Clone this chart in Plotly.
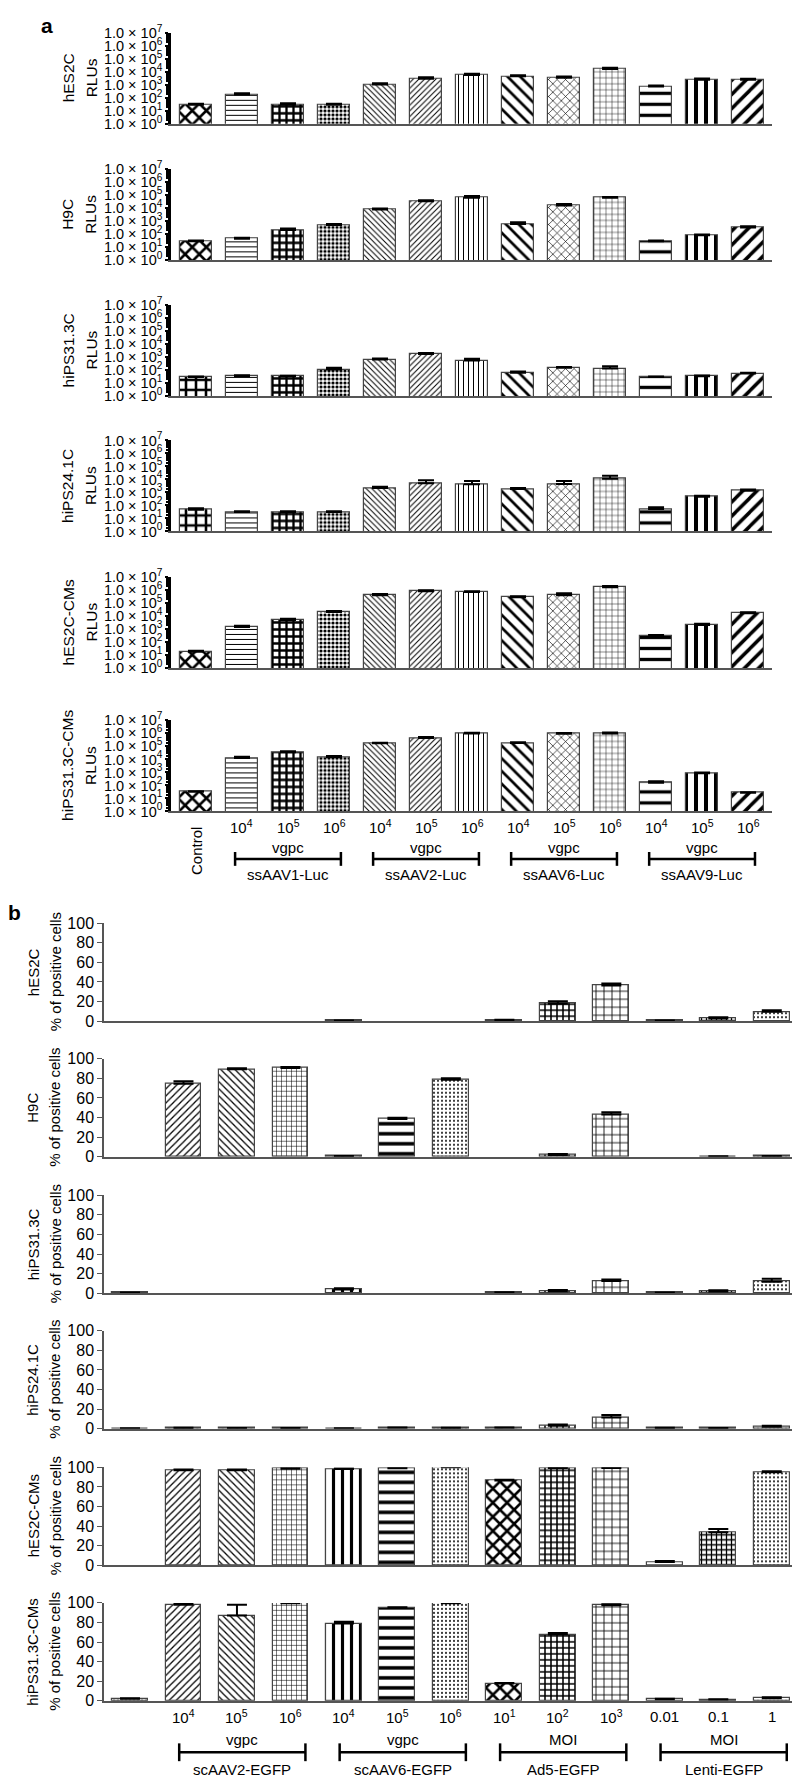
import plotly.graph_objects as go

# ---------------- DATA ----------------
cells_a = ["hES2C", "H9C", "hiPS31.3C", "hiPS24.1C", "hES2C-CMs", "hiPS31.3C-CMs"]
cells_b = ["hES2C", "H9C", "hiPS31.3C", "hiPS24.1C", "hES2C-CMs", "hiPS31.3C-CMs"]

# Panel a: RLUs (log scale), 13 bars: Control, AAV1 x3, AAV2 x3, AAV6 x3, AAV9 x3
rlu_hES2C = [30, 180, 30, 30, 1050, 3000, 5600, 4500, 3500, 16500, 740, 2500, 2500]
rlu_hES2C_err = [5, 50, 8, 5, 250, 800, 1500, 1000, 800, 4000, 150, 600, 500]
rlu_H9C = [30, 47, 215, 520, 8100, 35000, 66000, 620, 17000, 66000, 30, 85, 345]
rlu_H9C_err = [4, 8, 70, 120, 1500, 8000, 25000, 250, 5000, 10000, 4, 15, 80]
rlu_hiPS31 = [28, 33, 32, 107, 620, 1670, 520, 60, 145, 128, 28, 33, 53]
rlu_hiPS31_err = [3, 6, 4, 40, 150, 300, 200, 15, 20, 60, 3, 5, 8]
rlu_hiPS24 = [47, 31, 31, 31, 2200, 5000, 4200, 1830, 4500, 11500, 53, 470, 1370]
rlu_hiPS24_err = [15, 5, 5, 5, 500, 3500, 3500, 400, 3000, 8000, 20, 80, 300]
rlu_hES2C_CM = [18, 1400, 5000, 20000, 400000, 800000, 700000, 280000, 400000, 1600000, 280, 2000, 16000]
rlu_hES2C_CM_err = [3, 400, 1000, 4000, 80000, 150000, 100000, 50000, 150000, 400000, 60, 500, 3000]
rlu_hiPS31_CM = [32, 13000, 36000, 15000, 175000, 450000, 1000000, 185000, 960000, 1000000, 163, 850, 27]
rlu_hiPS31_CM_err = [3, 3000, 6000, 3000, 20000, 80000, 100000, 20000, 100000, 150000, 50, 150, 3]

vals_a = [rlu_hES2C, rlu_H9C, rlu_hiPS31, rlu_hiPS24, rlu_hES2C_CM, rlu_hiPS31_CM]
errs_a = [rlu_hES2C_err, rlu_H9C_err, rlu_hiPS31_err, rlu_hiPS24_err, rlu_hES2C_CM_err, rlu_hiPS31_CM_err]

# Panel b: % of positive cells
pct_hES2C = [None, None, None, None, 0.5, None, None, 1.0, 17.9, 36.5, 0.5, 2.7, 9.5]
pct_hES2C_err = [0, 0, 0, 0, 0.3, 0, 0, 0.5, 2.4, 2.0, 0.3, 1.3, 1.7]
pct_H9C = [None, 74.4, 89.2, 90.6, 0.5, 38.4, 78.5, None, 1.7, 43.1, None, 0.3, 0.5]
pct_H9C_err = [0, 2.7, 1.0, 1.0, 0.3, 1.3, 1.7, 0, 1.0, 2.3, 0, 0.2, 0.3]
pct_hiPS31 = [0.5, None, None, None, 3.7, None, None, 0.7, 2.0, 12.4, 0.5, 1.7, 11.7]
pct_hiPS31_err = [0.2, 0, 0, 0, 1.3, 0, 0, 0.3, 1.3, 1.7, 0.2, 1.3, 3.0]
pct_hiPS24 = [0.3, 0.8, 0.5, 0.5, 0.3, 1.0, 0.8, 1.0, 3.0, 11.4, 0.8, 0.5, 2.0]
pct_hiPS24_err = [0.2, 0.3, 0.3, 0.3, 0.2, 0.4, 0.3, 0.4, 1.3, 2.7, 0.3, 0.3, 1.0]
pct_hES2C_CM = [None, 97, 97, 98.6, 98.3, 99, 100, 86.6, 99.3, 99.3, 3.4, 33.6, 95]
pct_hES2C_CM_err = [0, 0.7, 0.7, 0.5, 0.5, 0.7, 0.3, 0.7, 0.5, 0.5, 1.0, 3.4, 1.0]
pct_hiPS31_CM = [2.0, 98, 87.2, 99.7, 79, 95, 99.7, 17.6, 67.6, 97.6, 1.7, 1.4, 2.7]
pct_hiPS31_CM_err = [0.7, 1.0, 10.8, 0.5, 1.7, 0.5, 0.3, 0.5, 1.7, 1.0, 0.3, 0.3, 1.0]

vals_b = [pct_hES2C, pct_H9C, pct_hiPS31, pct_hiPS24, pct_hES2C_CM, pct_hiPS31_CM]
errs_b = [pct_hES2C_err, pct_H9C_err, pct_hiPS31_err, pct_hiPS24_err, pct_hES2C_CM_err, pct_hiPS31_CM_err]

doses_a = ["Control", "10<sup>4</sup>", "10<sup>5</sup>", "10<sup>6</sup>",
           "10<sup>4</sup>", "10<sup>5</sup>", "10<sup>6</sup>",
           "10<sup>4</sup>", "10<sup>5</sup>", "10<sup>6</sup>",
           "10<sup>4</sup>", "10<sup>5</sup>", "10<sup>6</sup>"]
groups_a = ["ssAAV1-Luc", "ssAAV2-Luc", "ssAAV6-Luc", "ssAAV9-Luc"]
units_a = ["vgpc", "vgpc", "vgpc", "vgpc"]

doses_b = ["", "10<sup>4</sup>", "10<sup>5</sup>", "10<sup>6</sup>",
           "10<sup>4</sup>", "10<sup>5</sup>", "10<sup>6</sup>",
           "10<sup>1</sup>", "10<sup>2</sup>", "10<sup>3</sup>",
           "0.01", "0.1", "1"]
groups_b = ["scAAV2-EGFP", "scAAV6-EGFP", "Ad5-EGFP", "Lenti-EGFP"]
units_b = ["vgpc", "vgpc", "MOI", "MOI"]

ytick_vals_a = [1, 10, 100, 1e3, 1e4, 1e5, 1e6, 1e7]
ytick_text_a = ["1.0 × 10<sup>%d</sup>" % k for k in range(8)]
ytick_vals_b = [0, 20, 40, 60, 80, 100]

# ---------------- STYLE ----------------
W, H = 800, 1778
FONT = "Liberation Sans, Arial, sans-serif"
N = 13

pat_shape_a = ["x", "-", "+", ".", "\\", "/", "|", "\\", "x", "+", "-", "|", "/"]
pat_size_a = [10, 5, 7, 4, 4, 4, 5, 9, 6, 6, 11, 10, 10]
pat_sol_a = [0.45, 0.2, 0.55, 0.5, 0.25, 0.25, 0.2, 0.3, 0.2, 0.15, 0.3, 0.4, 0.35]
ctrl_shape_a = ["x", "x", "+", "+", "x", "x"]

pat_shape_b = [".", "/", "\\", "+", "|", "-", ".", "x", "+", "+", "-", "+", "."]
pat_size_b = [4, 5, 5, 5, 9, 10, 4, 10, 6, 8, 8, 5, 4]
pat_sol_b = [0.3, 0.25, 0.25, 0.2, 0.35, 0.35, 0.2, 0.45, 0.45, 0.2, 0.2, 0.45, 0.2]

a_top = [15, 153, 290, 427, 565, 710]
a_h = 92
b_top = [915, 1052, 1190, 1327, 1465, 1602]
b_h = 99


def py(p):
    return 1 - p / H


fig = go.Figure()
layout = dict(width=W, height=H, margin=dict(l=0, r=0, t=0, b=0),
              plot_bgcolor="white", paper_bgcolor="white",
              font=dict(family=FONT, color="black", size=15), showlegend=False,
              bargap=0)
annotations = []
shapes = []

xs = list(range(N))

for i in range(6):
    k = i + 1
    sh = list(pat_shape_a)
    sh[0] = ctrl_shape_a[i]
    fig.add_trace(go.Bar(
        x=xs, y=vals_a[i], xaxis="x%d" % k, yaxis="y%d" % k, width=0.7,
        marker=dict(color="white", line=dict(color="#444", width=1.2),
                    pattern=dict(shape=sh, size=pat_size_a, solidity=pat_sol_a,
                                 fgcolor="black", bgcolor="white", fgopacity=1,
                                 fillmode="overlay")),
        error_y=dict(type="data", array=errs_a[i], arrayminus=[0] * N, symmetric=False,
                     color="black", thickness=2, width=8),
        hoverinfo="skip"))
    layout["xaxis%d" % k] = dict(domain=[163 / W, 764 / W], range=[-0.543, 12.52],
                                 anchor="y%d" % k, showticklabels=False, ticks="",
                                 showline=True, linecolor="#555", linewidth=1.5,
                                 showgrid=False, zeroline=False)
    layout["yaxis%d" % k] = dict(domain=[py(a_top[i] + a_h), py(a_top[i])], type="log",
                                 range=[0, 7], anchor="x%d" % k,
                                 tickvals=ytick_vals_a, ticktext=ytick_text_a,
                                 tickfont=dict(size=14.5, family=FONT),
                                 ticks="outside", ticklen=3, tickwidth=1.5, tickcolor="black",
                                 minor=dict(ticks="outside", ticklen=2, dtick="D1", tickcolor="black"),
                                 showline=True, linecolor="black", linewidth=2.5,
                                 showgrid=False, zeroline=False)
    yc = py(a_top[i] + a_h / 2)
    annotations.append(dict(text=cells_a[i], x=60 / W, y=yc, xref="paper", yref="paper",
                            textangle=-90, showarrow=False, font=dict(size=15.5),
                            xanchor="center", yanchor="middle"))
    annotations.append(dict(text="RLUs", x=83 / W, y=yc, xref="paper", yref="paper",
                            textangle=-90, showarrow=False, font=dict(size=15.5),
                            xanchor="center", yanchor="middle"))

for i in range(6):
    k = i + 7
    fig.add_trace(go.Bar(
        x=xs, y=vals_b[i], xaxis="x%d" % k, yaxis="y%d" % k, width=0.67,
        marker=dict(color="white", line=dict(color="#444", width=1.2),
                    pattern=dict(shape=pat_shape_b, size=pat_size_b, solidity=pat_sol_b,
                                 fgcolor="black", bgcolor="white", fgopacity=1,
                                 fillmode="overlay")),
        error_y=dict(type="data", array=errs_b[i], arrayminus=[0] * N, symmetric=False,
                     color="black", thickness=2, width=10),
        hoverinfo="skip"))
    layout["xaxis%d" % k] = dict(domain=[96 / W, 790 / W], range=[-0.486, 12.49],
                                 anchor="y%d" % k, showticklabels=False, ticks="",
                                 showline=True, linecolor="#555", linewidth=1.5,
                                 showgrid=False, zeroline=False)
    layout["yaxis%d" % k] = dict(domain=[py(b_top[i] + b_h), py(b_top[i])],
                                 range=[0, 100], anchor="x%d" % k,
                                 tickvals=ytick_vals_b,
                                 tickfont=dict(size=16, family=FONT),
                                 ticks="outside", ticklen=5, tickwidth=1.2, tickcolor="#555",
                                 showline=True, linecolor="#555", linewidth=1.5,
                                 showgrid=False, zeroline=False)
    yc = py(b_top[i] + b_h / 2)
    annotations.append(dict(text=cells_b[i], x=25 / W, y=yc, xref="paper", yref="paper",
                            textangle=-90, showarrow=False, font=dict(size=15),
                            xanchor="center", yanchor="middle"))
    annotations.append(dict(text="% of positive cells", x=47 / W, y=yc, xref="paper", yref="paper",
                            textangle=-90, showarrow=False, font=dict(size=15),
                            xanchor="center", yanchor="middle"))

# ---- x labels panel a ----
xa = "x6"
for j in range(N):
    if j == 0:
        annotations.append(dict(text=doses_a[0], x=0, y=py(842), xref=xa, yref="paper",
                                textangle=-90, showarrow=False, font=dict(size=15),
                                xanchor="center", yanchor="middle"))
    else:
        annotations.append(dict(text=doses_a[j], x=j, y=py(817), xref=xa, yref="paper",
                                showarrow=False, font=dict(size=15),
                                xanchor="center", yanchor="middle"))
for g in range(4):
    c = 2 + 3 * g
    annotations.append(dict(text=units_a[g], x=c, y=py(838), xref=xa, yref="paper",
                            showarrow=False, font=dict(size=15), xanchor="center", yanchor="middle"))
    annotations.append(dict(text=groups_a[g], x=c, y=py(866), xref=xa, yref="paper",
                            showarrow=False, font=dict(size=15), xanchor="center", yanchor="middle"))
    x0, x1 = c - 1.15, c + 1.15
    shapes.append(dict(type="line", xref=xa, yref="paper", x0=x0, x1=x1, y0=py(850), y1=py(850),
                       line=dict(color="black", width=2.5)))
    for xx in (x0, x1):
        shapes.append(dict(type="line", xref=xa, yref="paper", x0=xx, x1=xx, y0=py(843), y1=py(857),
                           line=dict(color="black", width=2.5)))

# ---- x labels panel b ----
xb = "x12"
for j in range(1, N):
    annotations.append(dict(text=doses_b[j], x=j, y=py(1717), xref=xb, yref="paper",
                            showarrow=False, font=dict(size=15), xanchor="center", yanchor="middle"))
for g in range(4):
    c = 2 + 3 * g + 0.1
    annotations.append(dict(text=units_b[g], x=c, y=py(1740), xref=xb, yref="paper",
                            showarrow=False, font=dict(size=15), xanchor="center", yanchor="middle"))
    annotations.append(dict(text=groups_b[g], x=c, y=py(1770), xref=xb, yref="paper",
                            showarrow=False, font=dict(size=15), xanchor="center", yanchor="middle"))
    x0, x1 = c - 1.18, c + 1.18
    shapes.append(dict(type="line", xref=xb, yref="paper", x0=x0, x1=x1, y0=py(1753), y1=py(1753),
                       line=dict(color="black", width=2.5)))
    for xx in (x0, x1):
        shapes.append(dict(type="line", xref=xb, yref="paper", x0=xx, x1=xx, y0=py(1744), y1=py(1762),
                           line=dict(color="black", width=2.5)))

annotations.append(dict(text="<b>a</b>", x=39 / W, y=py(8), xref="paper", yref="paper",
                        showarrow=False, font=dict(size=21), xanchor="center", yanchor="middle"))
annotations.append(dict(text="<b>b</b>", x=6 / W, y=py(904), xref="paper", yref="paper",
                        showarrow=False, font=dict(size=21), xanchor="center", yanchor="middle"))

layout["annotations"] = annotations
layout["shapes"] = shapes
fig.update_layout(**layout)
fig.write_html("out.html")
